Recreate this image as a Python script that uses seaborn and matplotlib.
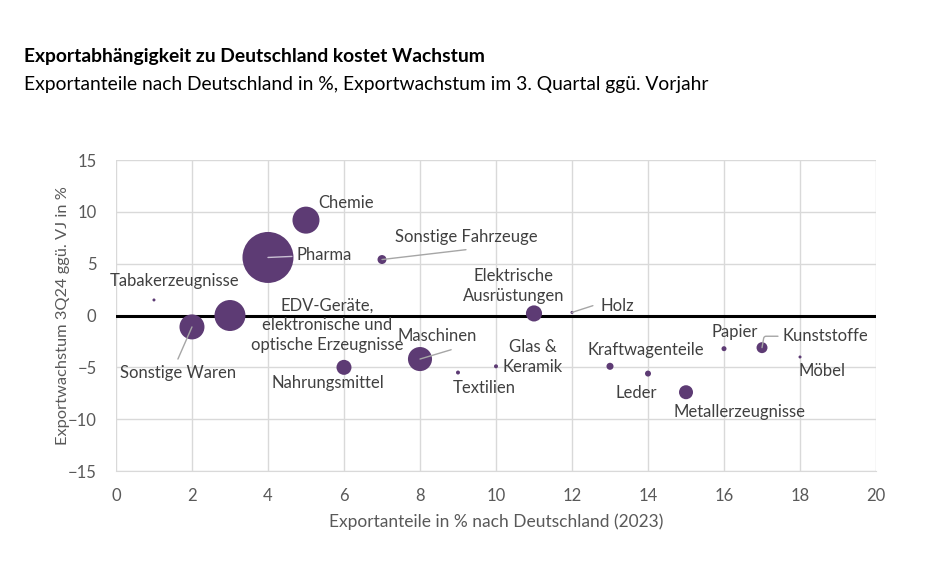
import matplotlib
matplotlib.use("Agg")
import matplotlib.pyplot as plt
import pandas as pd
import seaborn as sns

# Daten
branchen = [
    "Tabakerzeugnisse", "Sonstige Waren", "EDV-Geräte", "Pharma", "Chemie",
    "Nahrungsmittel", "Sonstige Fahrzeuge", "Maschinen", "Textilien",
    "Glas & Keramik", "Elektrische Ausrüstungen", "Holz", "Kraftwagenteile",
    "Leder", "Metallerzeugnisse", "Papier", "Kunststoffe", "Möbel",
]
exportanteil = [1, 2, 3, 4, 5, 6, 7, 8, 9, 10, 11, 12, 13, 14, 15, 16, 17, 18]
wachstum = [1.5, -1.1, 0.0, 5.6, 9.2, -5.0, 5.4, -4.2, -5.5, -4.9, 0.2, 0.3,
            -4.9, -5.6, -7.4, -3.2, -3.1, -4.0]
# relatives Exportvolumen (Blasenfläche)
volumen = [0.09, 6.25, 9.6, 26.0, 7.3, 2.25, 0.8, 5.8, 0.16, 0.16, 2.6, 0.09,
           0.5, 0.36, 1.96, 0.25, 1.2, 0.09]

# Beschriftungen: Branche, Text, Textposition, Ausrichtung
beschriftungen = [
    ("Tabakerzeugnisse", "Tabakerzeugnisse", 1.55, 3.3, "center"),
    ("Sonstige Waren", "Sonstige Waren", 1.63, -5.5, "center"),
    ("EDV-Geräte", "EDV-Geräte,\nelektronische und\noptische Erzeugnisse", 5.55, -0.95, "center"),
    ("Pharma", "Pharma", 4.74, 5.8, "left"),
    ("Chemie", "Chemie", 6.05, 10.9, "center"),
    ("Nahrungsmittel", "Nahrungsmittel", 5.58, -6.55, "center"),
    ("Sonstige Fahrzeuge", "Sonstige Fahrzeuge", 9.21, 7.6, "center"),
    ("Maschinen", "Maschinen", 8.45, -2.0, "center"),
    ("Textilien", "Textilien", 9.68, -6.95, "center"),
    ("Glas & Keramik", "Glas &\nKeramik", 10.97, -4.0, "center"),
    ("Elektrische Ausrüstungen", "Elektrische\nAusrüstungen", 10.47, 2.85, "center"),
    ("Holz", "Holz", 12.74, 0.95, "left"),
    ("Kraftwagenteile", "Kraftwagenteile", 13.95, -3.3, "center"),
    ("Leder", "Leder", 13.7, -7.5, "center"),
    ("Metallerzeugnisse", "Metallerzeugnisse", 16.42, -9.35, "center"),
    ("Papier", "Papier", 16.29, -1.6, "center"),
    ("Kunststoffe", "Kunststoffe", 17.55, -2.0, "left"),
    ("Möbel", "Möbel", 18.58, -5.4, "center"),
]
# Endpunkte der Leitlinien (Label-Seite) und Verbindungsstil
leitlinien = {
    "Sonstige Waren": ((1.63, -4.2), "arc3"),
    "Pharma": ((4.63, 5.7), "arc3"),
    "Sonstige Fahrzeuge": ((9.21, 6.35), "arc3"),
    "Maschinen": ((8.82, -3.3), "arc3"),
    "Holz": ((12.55, 0.95), "arc3"),
    "Kunststoffe": ((17.42, -2.0), "angle,angleA=0,angleB=80,rad=2"),
}

df = pd.DataFrame({"branche": branchen, "anteil": exportanteil,
                   "wachstum": wachstum, "volumen": volumen})

lila = "#5D3B74"
grau_text = "#404040"
grau_achse = "#595959"

sns.set_style("white")
plt.rcParams["font.family"] = ["Lato", "DejaVu Sans"]

fig = plt.figure(figsize=(9.27, 5.81), dpi=100)
ax = fig.add_axes([0.1251, 0.1893, 0.8199, 0.5353])

sns.scatterplot(data=df, x="anteil", y="wachstum", size="volumen",
                sizes=(0, 26.0 * 51.84), size_norm=(0, 26.0),
                color=lila, edgecolor="none", alpha=1, legend=False, ax=ax, zorder=3)

ax.axhline(0, color="black", lw=2.2, zorder=2)

lookup = df.set_index("branche")
for branche, text, tx, ty, ha in beschriftungen:
    if branche in leitlinien:
        px, py = lookup.loc[branche, "anteil"], lookup.loc[branche, "wachstum"]
        (ex, ey), stil = leitlinien[branche]
        farbe = "#C9BFD3" if branche == "Pharma" else "#A6A6A6"
        ax.annotate("", xy=(px, py), xytext=(ex, ey),
                    arrowprops=dict(arrowstyle="-", color=farbe, lw=1.0,
                                    shrinkA=0, shrinkB=0, connectionstyle=stil),
                    zorder=4)
    ax.text(tx, ty, text, ha=ha, va="center", fontsize=12, color=grau_text,
            linespacing=1.3, zorder=5)

ax.set_xlim(0, 20)
ax.set_ylim(-15, 15)
ax.set_xticks(range(0, 21, 2))
ax.set_yticks(range(-15, 16, 5))
ax.grid(True, color="#D9D9D9", lw=1.0, zorder=0)
ax.set_axisbelow(True)
for side in ["left", "right", "top"]:
    ax.spines[side].set_visible(False)
ax.spines["bottom"].set_color("#D9D9D9")
ax.tick_params(axis="both", length=0, labelsize=12, labelcolor=grau_achse)
ax.tick_params(axis="x", pad=12)
ax.tick_params(axis="y", pad=14)

ax.set_xlabel("Exportanteile in % nach Deutschland (2023)", fontsize=12.5,
              color=grau_achse, labelpad=7)
ax.set_ylabel("Exportwachstum 3Q24 ggü. VJ in %", fontsize=11.8,
              color=grau_achse, labelpad=-2)

fig.text(0.026, 0.902, "Exportabhängigkeit zu Deutschland kostet Wachstum",
         fontsize=13.9, fontweight="bold", color="black", va="center")
fig.text(0.026, 0.855, "Exportanteile nach Deutschland in %, Exportwachstum im 3. Quartal ggü. Vorjahr",
         fontsize=13.9, color="black", va="center")

fig.savefig("out.png", dpi=100)
